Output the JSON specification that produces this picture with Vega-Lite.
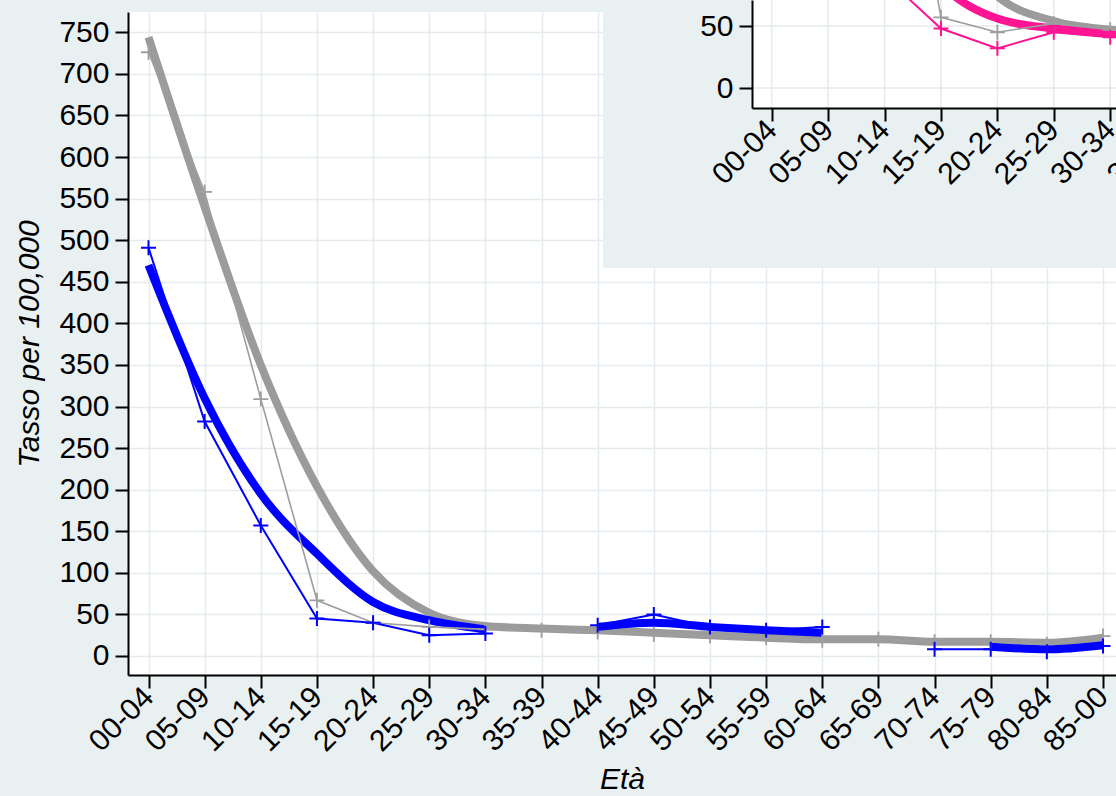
{
  "$schema": "https://vega.github.io/schema/vega-lite/v6.json",
  "width": 988,
  "height": 663,
  "autosize": {"type": "none"},
  "padding": {"left": 128, "top": 12, "right": 0, "bottom": 121},
  "background": "#e9f0f2",
  "config": {"view": {"fill": "#ffffff", "stroke": null}, "font": "Liberation Sans"},
  "datasets": {
    "main": [
      {"serie": "rif_oss", "classe": "00-04", "v": 726}, {"serie": "rif_oss", "classe": "05-09", "v": 558}, {"serie": "rif_oss", "classe": "10-14", "v": 309}, {"serie": "rif_oss", "classe": "15-19", "v": 67}, {"serie": "rif_oss", "classe": "20-24", "v": 40}, {"serie": "rif_oss", "classe": "25-29", "v": 35}, {"serie": "rif_oss", "classe": "30-34", "v": 32}, {"serie": "rif_oss", "classe": "35-39", "v": 31}, {"serie": "rif_oss", "classe": "40-44", "v": 29}, {"serie": "rif_oss", "classe": "45-49", "v": 26}, {"serie": "rif_oss", "classe": "50-54", "v": 24}, {"serie": "rif_oss", "classe": "55-59", "v": 22}, {"serie": "rif_oss", "classe": "60-64", "v": 19}, {"serie": "rif_oss", "classe": "65-69", "v": 20}, {"serie": "rif_oss", "classe": "70-74", "v": 17}, {"serie": "rif_oss", "classe": "75-79", "v": 17}, {"serie": "rif_oss", "classe": "80-84", "v": 14}, {"serie": "rif_oss", "classe": "85-00", "v": 24},
      {"serie": "rif_smooth", "classe": "00-04", "v": 744}, {"serie": "rif_smooth", "classe": "05-09", "v": 540}, {"serie": "rif_smooth", "classe": "10-14", "v": 350}, {"serie": "rif_smooth", "classe": "15-19", "v": 204}, {"serie": "rif_smooth", "classe": "20-24", "v": 102}, {"serie": "rif_smooth", "classe": "25-29", "v": 52}, {"serie": "rif_smooth", "classe": "30-34", "v": 36}, {"serie": "rif_smooth", "classe": "35-39", "v": 33}, {"serie": "rif_smooth", "classe": "40-44", "v": 31}, {"serie": "rif_smooth", "classe": "45-49", "v": 28}, {"serie": "rif_smooth", "classe": "50-54", "v": 25}, {"serie": "rif_smooth", "classe": "55-59", "v": 22}, {"serie": "rif_smooth", "classe": "60-64", "v": 20}, {"serie": "rif_smooth", "classe": "65-69", "v": 20}, {"serie": "rif_smooth", "classe": "70-74", "v": 17}, {"serie": "rif_smooth", "classe": "75-79", "v": 17}, {"serie": "rif_smooth", "classe": "80-84", "v": 16}, {"serie": "rif_smooth", "classe": "85-00", "v": 22},
      {"serie": "blu_oss", "classe": "00-04", "v": 491}, {"serie": "blu_oss", "classe": "05-09", "v": 282}, {"serie": "blu_oss", "classe": "10-14", "v": 157}, {"serie": "blu_oss", "classe": "15-19", "v": 45}, {"serie": "blu_oss", "classe": "20-24", "v": 40}, {"serie": "blu_oss", "classe": "25-29", "v": 25}, {"serie": "blu_oss", "classe": "30-34", "v": 27}, {"serie": "blu_oss", "classe": "35-39", "v": null}, {"serie": "blu_oss", "classe": "40-44", "v": 37}, {"serie": "blu_oss", "classe": "45-49", "v": 50}, {"serie": "blu_oss", "classe": "50-54", "v": 35}, {"serie": "blu_oss", "classe": "55-59", "v": 31}, {"serie": "blu_oss", "classe": "60-64", "v": 35}, {"serie": "blu_oss", "classe": "65-69", "v": null}, {"serie": "blu_oss", "classe": "70-74", "v": 8}, {"serie": "blu_oss", "classe": "75-79", "v": 8}, {"serie": "blu_oss", "classe": "80-84", "v": 5}, {"serie": "blu_oss", "classe": "85-00", "v": 12},
      {"serie": "blu_smooth", "classe": "00-04", "v": 470}, {"serie": "blu_smooth", "classe": "05-09", "v": 310}, {"serie": "blu_smooth", "classe": "10-14", "v": 195}, {"serie": "blu_smooth", "classe": "15-19", "v": 123}, {"serie": "blu_smooth", "classe": "20-24", "v": 65}, {"serie": "blu_smooth", "classe": "25-29", "v": 43}, {"serie": "blu_smooth", "classe": "30-34", "v": 32}, {"serie": "blu_smooth", "classe": "35-39", "v": null}, {"serie": "blu_smooth", "classe": "40-44", "v": 35}, {"serie": "blu_smooth", "classe": "45-49", "v": 40}, {"serie": "blu_smooth", "classe": "50-54", "v": 35}, {"serie": "blu_smooth", "classe": "55-59", "v": 31}, {"serie": "blu_smooth", "classe": "60-64", "v": 28}, {"serie": "blu_smooth", "classe": "65-69", "v": null}, {"serie": "blu_smooth", "classe": "70-74", "v": null}, {"serie": "blu_smooth", "classe": "75-79", "v": 11}, {"serie": "blu_smooth", "classe": "80-84", "v": 8}, {"serie": "blu_smooth", "classe": "85-00", "v": 13}
    ],
    "inset": [
      {"serie": "rosa_oss", "a": 0, "v": 420}, {"serie": "rosa_oss", "a": 5, "v": 250}, {"serie": "rosa_oss", "a": 10, "v": 90}, {"serie": "rosa_oss", "a": 15, "v": 48}, {"serie": "rosa_oss", "a": 20, "v": 32}, {"serie": "rosa_oss", "a": 25, "v": 45}, {"serie": "rosa_oss", "a": 30, "v": 41}, {"serie": "rosa_oss", "a": 35, "v": 42}, {"serie": "rosa_oss", "a": 40, "v": 40},
      {"serie": "rosa_smooth", "a": 0, "v": 400}, {"serie": "rosa_smooth", "a": 5, "v": 260}, {"serie": "rosa_smooth", "a": 10, "v": 150}, {"serie": "rosa_smooth", "a": 15, "v": 84}, {"serie": "rosa_smooth", "a": 20, "v": 56}, {"serie": "rosa_smooth", "a": 25, "v": 48}, {"serie": "rosa_smooth", "a": 30, "v": 44}, {"serie": "rosa_smooth", "a": 35, "v": 42}, {"serie": "rosa_smooth", "a": 40, "v": 40},
      {"serie": "rif_oss", "a": 0, "v": 725}, {"serie": "rif_oss", "a": 5, "v": 560}, {"serie": "rif_oss", "a": 10, "v": 310}, {"serie": "rif_oss", "a": 15, "v": 57}, {"serie": "rif_oss", "a": 20, "v": 45}, {"serie": "rif_oss", "a": 25, "v": 52}, {"serie": "rif_oss", "a": 30, "v": 47}, {"serie": "rif_oss", "a": 35, "v": 44}, {"serie": "rif_oss", "a": 40, "v": 40},
      {"serie": "rif_smooth", "a": 0, "v": 745}, {"serie": "rif_smooth", "a": 5, "v": 540}, {"serie": "rif_smooth", "a": 10, "v": 250}, {"serie": "rif_smooth", "a": 15, "v": 130}, {"serie": "rif_smooth", "a": 20, "v": 74}, {"serie": "rif_smooth", "a": 25, "v": 54}, {"serie": "rif_smooth", "a": 30, "v": 47}, {"serie": "rif_smooth", "a": 35, "v": 44}, {"serie": "rif_smooth", "a": 40, "v": 41}
    ],
    "inset_yticks": [{"v": 0}, {"v": 50}]
  },
  "layer": [
    {
      "data": {"name": "main"},
      "transform": [{"filter": "datum.serie == 'rif_smooth'"}],
      "mark": {"type": "line", "color": "#9b9b9b", "strokeWidth": 8, "interpolate": "monotone"},
      "encoding": {
        "x": {"field": "classe", "type": "ordinal", "sort": null,
          "scale": {"type": "point", "domain": ["00-04","05-09","10-14","15-19","20-24","25-29","30-34","35-39","40-44","45-49","50-54","55-59","60-64","65-69","70-74","75-79","80-84","85-00"], "padding": 0.2983, "align": 0.612},
          "axis": {"orient": "bottom", "title": "Età", "titleFontStyle": "italic", "titleFontWeight": "normal", "titleFontSize": 30, "titleColor": "#000000", "titlePadding": 8,
            "labelAngle": -45, "labelAlign": "right", "labelBaseline": "middle", "labelFontSize": 30, "labelColor": "#000000", "labelPadding": 4,
            "tickSize": 13, "tickWidth": 2, "tickColor": "#000000", "domainColor": "#000000", "domainWidth": 2,
            "grid": true, "gridColor": "#e3ebee", "gridWidth": 1.5, "labelOverlap": false, "labelBound": false}},
        "y": {"field": "v", "type": "quantitative",
          "scale": {"domain": [-22.85, 774.4], "nice": false, "zero": false},
          "axis": {"orient": "left", "title": "Tasso per 100,000", "titleFontStyle": "italic", "titleFontWeight": "normal", "titleFontSize": 30, "titleColor": "#000000", "titlePadding": 14,
            "values": [0,50,100,150,200,250,300,350,400,450,500,550,600,650,700,750],
            "labelFontSize": 30, "labelColor": "#000000", "labelPadding": 6,
            "tickSize": 13, "tickWidth": 2, "tickColor": "#000000", "domainColor": "#000000", "domainWidth": 2,
            "grid": true, "gridColor": "#e3ebee", "gridWidth": 1.5, "labelOverlap": false}}
      }
    },
    {
      "data": {"name": "main"},
      "transform": [{"filter": "datum.serie == 'blu_smooth'"}],
      "mark": {"type": "line", "color": "#0000ff", "strokeWidth": 8, "interpolate": "monotone"},
      "encoding": {
        "x": {"field": "classe", "type": "ordinal", "sort": null, "scale": {"type": "point", "domain": ["00-04","05-09","10-14","15-19","20-24","25-29","30-34","35-39","40-44","45-49","50-54","55-59","60-64","65-69","70-74","75-79","80-84","85-00"], "padding": 0.2983, "align": 0.612}, "axis": null},
        "y": {"field": "v", "type": "quantitative", "scale": {"domain": [-22.85, 774.4], "nice": false, "zero": false}, "axis": null}
      }
    },
    {
      "data": {"name": "main"},
      "transform": [{"filter": "datum.serie == 'rif_oss'"}],
      "mark": {"type": "line", "color": "#9e9e9e", "strokeWidth": 1.6},
      "encoding": {
        "x": {"field": "classe", "type": "ordinal", "sort": null, "scale": {"type": "point", "domain": ["00-04","05-09","10-14","15-19","20-24","25-29","30-34","35-39","40-44","45-49","50-54","55-59","60-64","65-69","70-74","75-79","80-84","85-00"], "padding": 0.2983, "align": 0.612}, "axis": null},
        "y": {"field": "v", "type": "quantitative", "scale": {"domain": [-22.85, 774.4], "nice": false, "zero": false}, "axis": null}
      }
    },
    {
      "data": {"name": "main"},
      "transform": [{"filter": "datum.serie == 'blu_oss'"}],
      "mark": {"type": "line", "color": "#0000ff", "strokeWidth": 2},
      "encoding": {
        "x": {"field": "classe", "type": "ordinal", "sort": null, "scale": {"type": "point", "domain": ["00-04","05-09","10-14","15-19","20-24","25-29","30-34","35-39","40-44","45-49","50-54","55-59","60-64","65-69","70-74","75-79","80-84","85-00"], "padding": 0.2983, "align": 0.612}, "axis": null},
        "y": {"field": "v", "type": "quantitative", "scale": {"domain": [-22.85, 774.4], "nice": false, "zero": false}, "axis": null}
      }
    },
    {
      "data": {"name": "main"},
      "transform": [{"filter": "datum.serie == 'rif_oss'"}],
      "mark": {"type": "point", "shape": "M-1,0H1M0,-1V1", "size": 225, "filled": false, "color": "#9e9e9e", "strokeWidth": 1.8, "opacity": 1},
      "encoding": {
        "x": {"field": "classe", "type": "ordinal", "sort": null, "scale": {"type": "point", "domain": ["00-04","05-09","10-14","15-19","20-24","25-29","30-34","35-39","40-44","45-49","50-54","55-59","60-64","65-69","70-74","75-79","80-84","85-00"], "padding": 0.2983, "align": 0.612}, "axis": null},
        "y": {"field": "v", "type": "quantitative", "scale": {"domain": [-22.85, 774.4], "nice": false, "zero": false}, "axis": null}
      }
    },
    {
      "data": {"name": "main"},
      "transform": [{"filter": "datum.serie == 'blu_oss'"}],
      "mark": {"type": "point", "shape": "M-1,0H1M0,-1V1", "size": 225, "filled": false, "color": "#0000ff", "strokeWidth": 2, "opacity": 1},
      "encoding": {
        "x": {"field": "classe", "type": "ordinal", "sort": null, "scale": {"type": "point", "domain": ["00-04","05-09","10-14","15-19","20-24","25-29","30-34","35-39","40-44","45-49","50-54","55-59","60-64","65-69","70-74","75-79","80-84","85-00"], "padding": 0.2983, "align": 0.612}, "axis": null},
        "y": {"field": "v", "type": "quantitative", "scale": {"domain": [-22.85, 774.4], "nice": false, "zero": false}, "axis": null}
      }
    },
    {
      "data": {"name": "inset"},
      "transform": [{"filter": "datum.serie == 'rif_oss'"}, {"aggregate": [{"op": "count", "as": "n"}]}],
      "mark": {"type": "rect", "fill": "#e9f0f2"},
      "encoding": {
        "x": {"datum": -14.96, "type": "quantitative", "scale": {"domain": [-1.746, 49.3], "range": [624, 1200], "nice": false, "zero": false}, "axis": null},
        "x2": {"datum": 60},
        "y": {"datum": -145.2, "type": "quantitative", "scale": {"domain": [-16.13, 71.0], "range": [96, -12], "nice": false, "zero": false}, "axis": null},
        "y2": {"datum": 500}
      }
    },
    {
      "data": {"name": "inset"},
      "transform": [{"filter": "datum.serie == 'rif_oss'"}, {"aggregate": [{"op": "count", "as": "n"}]}],
      "mark": {"type": "rect", "fill": "#ffffff"},
      "encoding": {
        "x": {"datum": -1.746, "type": "quantitative", "scale": {"domain": [-1.746, 49.3], "range": [624, 1200], "nice": false, "zero": false}, "axis": null},
        "x2": {"datum": 60},
        "y": {"datum": -16.13, "type": "quantitative", "scale": {"domain": [-16.13, 71.0], "range": [96, -12], "nice": false, "zero": false}, "axis": null},
        "y2": {"datum": 500}
      }
    },
    {
      "data": {"name": "inset"},
      "transform": [{"filter": "datum.serie == 'rif_oss'"}],
      "mark": {"type": "rule", "color": "#e3ebee", "strokeWidth": 1.5},
      "encoding": {
        "x": {"field": "a", "type": "quantitative", "scale": {"domain": [-1.746, 49.3], "range": [624, 1200], "nice": false, "zero": false}, "axis": null},
        "y": {"datum": -16.13, "type": "quantitative", "scale": {"domain": [-16.13, 71.0], "range": [96, -12], "nice": false, "zero": false}, "axis": null},
        "y2": {"datum": 500}
      }
    },
    {
      "data": {"name": "inset_yticks"},
      "mark": {"type": "rule", "color": "#e3ebee", "strokeWidth": 1.5},
      "encoding": {
        "y": {"field": "v", "type": "quantitative", "scale": {"domain": [-16.13, 71.0], "range": [96, -12], "nice": false, "zero": false}, "axis": null},
        "x": {"datum": -1.746, "type": "quantitative", "scale": {"domain": [-1.746, 49.3], "range": [624, 1200], "nice": false, "zero": false}, "axis": null},
        "x2": {"datum": 60}
      }
    },
    {
      "data": {"name": "inset"},
      "transform": [{"filter": "datum.serie == 'rif_smooth'"}],
      "mark": {"type": "line", "color": "#9b9b9b", "strokeWidth": 8, "interpolate": "monotone"},
      "encoding": {
        "x": {"field": "a", "type": "quantitative", "scale": {"domain": [-1.746, 49.3], "range": [624, 1200], "nice": false, "zero": false},
          "axis": {"orient": "bottom", "offset": -567, "values": [0,5,10,15,20,25,30,35,40,45],
            "labelExpr": "(datum.value < 10 ? '0' : '') + datum.value + '-' + (datum.value == 85 ? '00' : (datum.value < 6 ? '0' : '') + (datum.value + 4))",
            "title": null, "labelAngle": -45, "labelAlign": "right", "labelBaseline": "middle", "labelFontSize": 30, "labelColor": "#000000", "labelPadding": 4,
            "tickSize": 13, "tickWidth": 2, "tickColor": "#000000", "domainColor": "#000000", "domainWidth": 2, "grid": false, "zindex": 1, "labelOverlap": false, "labelBound": false, "labelFlush": false}},
        "y": {"field": "v", "type": "quantitative", "scale": {"domain": [-16.13, 71.0], "range": [96, -12], "nice": false, "zero": false},
          "axis": {"orient": "left", "offset": -624, "values": [0, 50], "title": null,
            "labelFontSize": 30, "labelColor": "#000000", "labelPadding": 6,
            "tickSize": 13, "tickWidth": 2, "tickColor": "#000000", "domainColor": "#000000", "domainWidth": 2, "grid": false, "zindex": 1, "labelOverlap": false, "labelFlush": false}}
      }
    },
    {
      "data": {"name": "inset"},
      "transform": [{"filter": "datum.serie == 'rosa_smooth'"}],
      "mark": {"type": "line", "color": "#ff1493", "strokeWidth": 8, "interpolate": "monotone"},
      "encoding": {
        "x": {"field": "a", "type": "quantitative", "scale": {"domain": [-1.746, 49.3], "range": [624, 1200], "nice": false, "zero": false}, "axis": null},
        "y": {"field": "v", "type": "quantitative", "scale": {"domain": [-16.13, 71.0], "range": [96, -12], "nice": false, "zero": false}, "axis": null}
      }
    },
    {
      "data": {"name": "inset"},
      "transform": [{"filter": "datum.serie == 'rif_oss'"}],
      "mark": {"type": "line", "color": "#9e9e9e", "strokeWidth": 1.6},
      "encoding": {
        "x": {"field": "a", "type": "quantitative", "scale": {"domain": [-1.746, 49.3], "range": [624, 1200], "nice": false, "zero": false}, "axis": null},
        "y": {"field": "v", "type": "quantitative", "scale": {"domain": [-16.13, 71.0], "range": [96, -12], "nice": false, "zero": false}, "axis": null}
      }
    },
    {
      "data": {"name": "inset"},
      "transform": [{"filter": "datum.serie == 'rosa_oss'"}],
      "mark": {"type": "line", "color": "#ff1493", "strokeWidth": 2},
      "encoding": {
        "x": {"field": "a", "type": "quantitative", "scale": {"domain": [-1.746, 49.3], "range": [624, 1200], "nice": false, "zero": false}, "axis": null},
        "y": {"field": "v", "type": "quantitative", "scale": {"domain": [-16.13, 71.0], "range": [96, -12], "nice": false, "zero": false}, "axis": null}
      }
    },
    {
      "data": {"name": "inset"},
      "transform": [{"filter": "datum.serie == 'rif_oss'"}],
      "mark": {"type": "point", "shape": "M-1,0H1M0,-1V1", "size": 225, "filled": false, "color": "#9e9e9e", "strokeWidth": 1.8, "opacity": 1},
      "encoding": {
        "x": {"field": "a", "type": "quantitative", "scale": {"domain": [-1.746, 49.3], "range": [624, 1200], "nice": false, "zero": false}, "axis": null},
        "y": {"field": "v", "type": "quantitative", "scale": {"domain": [-16.13, 71.0], "range": [96, -12], "nice": false, "zero": false}, "axis": null}
      }
    },
    {
      "data": {"name": "inset"},
      "transform": [{"filter": "datum.serie == 'rosa_oss'"}],
      "mark": {"type": "point", "shape": "M-1,0H1M0,-1V1", "size": 225, "filled": false, "color": "#ff1493", "strokeWidth": 2, "opacity": 1},
      "encoding": {
        "x": {"field": "a", "type": "quantitative", "scale": {"domain": [-1.746, 49.3], "range": [624, 1200], "nice": false, "zero": false}, "axis": null},
        "y": {"field": "v", "type": "quantitative", "scale": {"domain": [-16.13, 71.0], "range": [96, -12], "nice": false, "zero": false}, "axis": null}
      }
    }
  ],
  "resolve": {"scale": {"x": "independent", "y": "independent"}}
}
